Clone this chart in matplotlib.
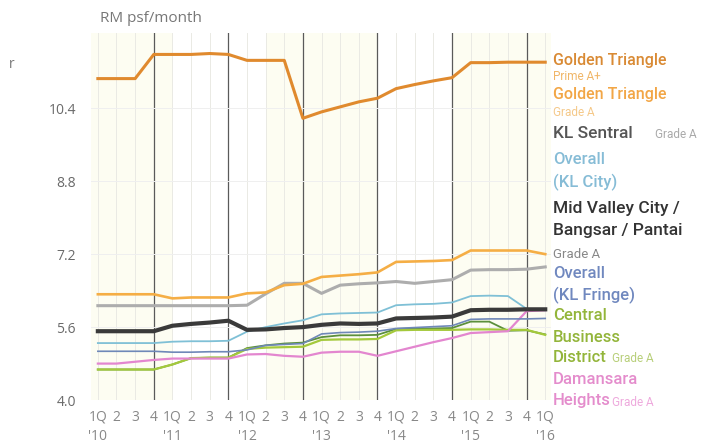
import matplotlib.pyplot as plt

plt.rcParams['font.family'] = ['Open Sans', 'DejaVu Sans']

# quarters 1Q'10 .. 1Q'16
quarters = list(range(25))
years = ["'10", "'11", "'12", "'13", "'14", "'15", "'16"]

gt_prime = [11.05, 11.05, 11.05, 11.58, 11.58, 11.58, 11.60, 11.58, 11.45, 11.45, 11.45, 10.18, 10.32,
            10.43, 10.54, 10.62, 10.83, 10.92, 11.00, 11.07, 11.40, 11.40, 11.41, 11.41, 11.41]
gt_grade_a = [6.32, 6.32, 6.32, 6.32, 6.23, 6.25, 6.25, 6.25, 6.34, 6.36, 6.52, 6.55, 6.70,
              6.73, 6.76, 6.80, 7.03, 7.04, 7.05, 7.07, 7.28, 7.28, 7.28, 7.28, 7.20]
kl_sentral = [6.07, 6.07, 6.07, 6.07, 6.07, 6.07, 6.07, 6.07, 6.08, 6.33, 6.56, 6.56, 6.34,
              6.52, 6.55, 6.57, 6.60, 6.56, 6.60, 6.64, 6.85, 6.86, 6.86, 6.87, 6.92]
kl_city = [5.25, 5.25, 5.25, 5.25, 5.28, 5.29, 5.29, 5.30, 5.50, 5.60, 5.68, 5.75, 5.88,
           5.90, 5.91, 5.92, 6.08, 6.10, 6.11, 6.14, 6.28, 6.29, 6.28, 6.00, 5.97]
mid_valley = [5.51, 5.51, 5.51, 5.51, 5.63, 5.67, 5.70, 5.74, 5.54, 5.55, 5.58, 5.60, 5.65,
              5.68, 5.67, 5.68, 5.79, 5.80, 5.81, 5.83, 5.97, 5.98, 5.98, 5.99, 5.99]
kl_fringe = [5.07, 5.07, 5.07, 5.07, 5.05, 5.05, 5.06, 5.06, 5.10, 5.20, 5.22, 5.24, 5.45,
             5.48, 5.49, 5.51, 5.57, 5.59, 5.61, 5.63, 5.77, 5.78, 5.78, 5.78, 5.79]
cbd = [4.67, 4.67, 4.67, 4.67, 4.78, 4.92, 4.93, 4.93, 5.12, 5.15, 5.16, 5.17, 5.32,
       5.33, 5.33, 5.34, 5.53, 5.54, 5.54, 5.54, 5.55, 5.55, 5.54, 5.54, 5.43]
cbd_dark = [4.67, 4.67, 4.67, 4.67, 4.78, 4.92, 4.93, 4.93, 5.14, 5.20, 5.24, 5.26, 5.38,
            5.42, 5.42, 5.43, 5.56, 5.57, 5.57, 5.58, 5.72, 5.72, 5.52, 5.53, 5.44]
damansara = [4.80, 4.80, 4.84, 4.88, 4.91, 4.91, 4.91, 4.91, 5.00, 5.01, 4.97, 4.95, 5.04,
             5.06, 5.06, 4.97, 5.07, 5.17, 5.27, 5.36, 5.47, 5.49, 5.51, 5.95, 5.97]

yticks = [4.0, 5.6, 7.2, 8.8, 10.4]

fig = plt.figure(figsize=(7.08, 4.46), dpi=100)
ax = fig.add_axes([0.129, 0.103, 0.649, 0.823])
ax.set_xlim(-0.35, 24.3)
ax.set_ylim(4.0, 12.05)

# very faint yellow bands
for a, b in [(-0.35, 4.0), (9.0, 15.0), (19.0, 24.3)]:
    ax.axvspan(a, b, color='#fdfdf2', lw=0, zorder=0)

# grid
for q in quarters:
    if q % 4 == 3:
        ax.axvline(q, color='#5a5a5a', lw=0.9, zorder=1)
    else:
        ax.axvline(q, color='#eaeae4', lw=0.7, zorder=1)
for y in yticks[1:]:
    ax.axhline(y, color='#efefef', lw=0.7, zorder=1)

ax.plot(quarters, cbd_dark, color='#5b8f3c', lw=1.3, zorder=3)
ax.plot(quarters, cbd, color='#a4c93c', lw=1.6, zorder=3)
ax.plot(quarters, damansara, color='#e386cf', lw=1.6, zorder=3)
ax.plot(quarters, kl_fringe, color='#6f88b8', lw=1.2, zorder=4)
ax.plot(quarters, kl_city, color='#7fc0d6', lw=1.3, zorder=4)
ax.plot(quarters, kl_sentral, color='#adadad', lw=2.2, zorder=4)
ax.plot(quarters, gt_grade_a, color='#f5ae45', lw=1.9, zorder=5)
ax.plot(quarters, mid_valley, color='#3a3a3a', lw=3.0, zorder=5)
ax.plot(quarters, gt_prime, color='#e08a2e', lw=2.2, zorder=5)

for s in ax.spines.values():
    s.set_visible(False)
ax.tick_params(length=0, colors='#6a6a6a', labelsize=10)
ax.set_yticks(yticks)
ax.set_yticklabels([f'{v:.1f}' for v in yticks])
ax.set_xticks(quarters)
xlabels = []
for q in quarters:
    if q % 4 == 0:
        xlabels.append('1Q\n' + years[q // 4])
    else:
        xlabels.append(str(q % 4 + 1))
ax.set_xticklabels(xlabels, linespacing=1.35, va='top', color='#888888')
ax.tick_params(axis='x', pad=7)
ax.tick_params(axis='y', pad=11)

fig.text(0.141, 0.958, 'RM psf/month', fontsize=11, color='#777777', va='center')
fig.text(0.012, 0.855, 'r', fontsize=10, color='#777777', va='center')

# right-hand labels
lx = 553 / 708


def lab(ypx, txt, color, size=12, weight='medium', x=lx):
    fig.text(x, 1 - ypx / 446, txt, fontsize=size, color=color, va='center',
             fontweight=weight, family=['Roboto', 'DejaVu Sans'])


lab(60, 'Golden Triangle', '#d98a34', size=11.5)
lab(77, 'Prime A+', '#f0b668', size=8.5, weight='normal')
lab(95, 'Golden Triangle', '#f2a646', size=11.5)
lab(113, 'Grade A', '#f5c98a', size=8.5, weight='normal')
lab(134, 'KL Sentral', '#555555', size=12.5)
lab(135, 'Grade A', '#aaaaaa', size=8.5, weight='normal', x=655 / 708)
lab(160, 'Overall', '#86bcd6')
lab(182, '(KL City)', '#86bcd6')
lab(208, 'Mid Valley City /', '#333333', size=12.5)
lab(230, 'Bangsar / Pantai', '#333333', size=12.5)
lab(254, 'Grade A', '#888888', size=9.5, weight='normal')
lab(274, 'Overall', '#7088bf')
lab(295, '(KL Fringe)', '#7088bf')
lab(316, 'Central', '#93b53a')
lab(337, 'Business', '#93b53a')
lab(358, 'District', '#93b53a')
lab(359, 'Grade A', '#b8cf7a', size=8.5, weight='normal', x=612 / 708)
lab(379, 'Damansara', '#e48ccc')
lab(401, 'Heights', '#e48ccc')
lab(402, 'Grade A', '#eeaadd', size=8.5, weight='normal', x=612 / 708)

fig.savefig('out.png', dpi=100, facecolor='white')
